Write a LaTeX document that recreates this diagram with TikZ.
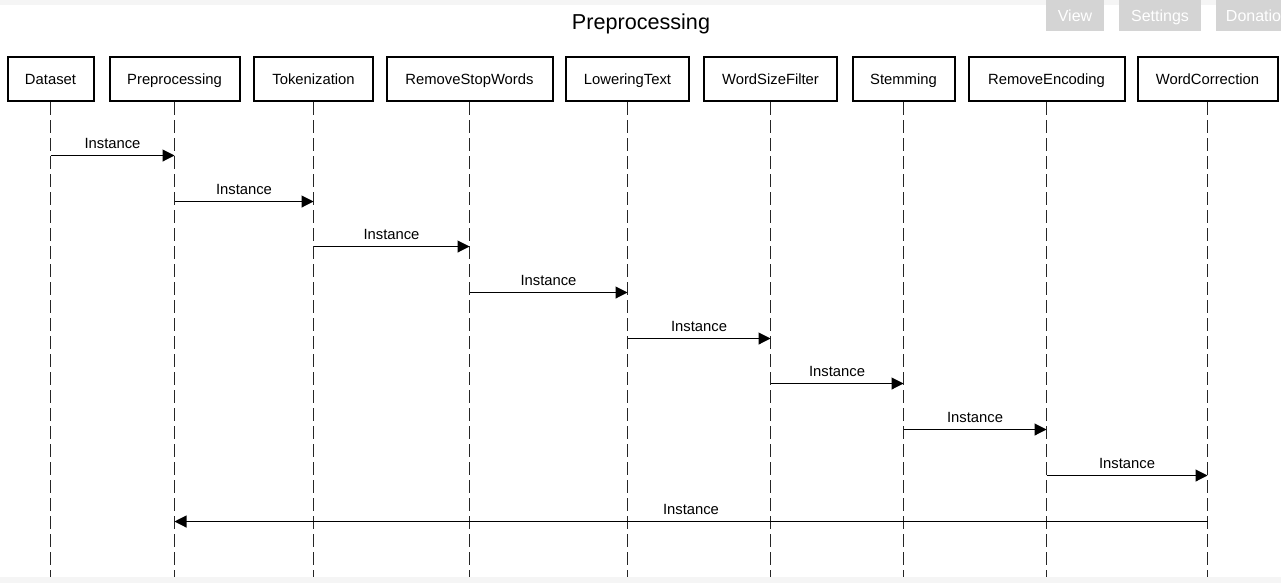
\documentclass[tikz,border=0pt]{standalone}
\usepackage{fontspec}
\setmainfont{Liberation Sans}
\usetikzlibrary{arrows.meta}
\begin{document}
\begin{tikzpicture}[x=0.75pt,y=-0.75pt,
  actor/.style={draw=black,line width=1.5pt,minimum height=33pt,inner sep=0pt,text height=7.95pt,text depth=0pt,font=\fontsize{11.1}{13}\selectfont},
  lifeline/.style={line width=0.9pt,dash pattern=on 9.75pt off 3.75pt,draw=black!85},
  msg/.style={line width=0.8pt,draw=black,-{Triangle[length=9pt,width=9pt]}},
  lbl/.style={font=\fontsize{11.1}{13}\selectfont,inner sep=0pt,above=5pt},
  btn/.style={fill=black!17,text=white,inner sep=0pt,minimum height=23.5pt,text height=8.6pt,text depth=0pt,font=\fontsize{12}{14}\selectfont},
  band/.style={fill=black!4,draw=none}]
\useasboundingbox (0,0) rectangle (1281,583);
\clip (0,0) rectangle (1281,583);
\fill[white] (0,0) rectangle (1281,583);
\fill[band] (0,0) rectangle (1281,5);
\fill[band] (0,577) rectangle (1281,583);
% buttons
\node[btn,minimum width=43.5pt] (bView) at (1075,15.5) {View};
\node[btn,minimum width=61.5pt] (bSettings) at (1160,15.5) {Settings};
\node[btn,minimum width=63pt] (bDonation) at (1258,15.5) {Donation};
% title
\node[font=\fontsize{16.2}{19}\selectfont,inner sep=0pt,text height=11.6pt,text depth=0pt] (title) at (641,22) {Preprocessing};
% actors
\node[actor,minimum width=64.5pt] (Dataset) at (50.5,79) {Dataset};
\node[actor,minimum width=97.5pt] (Preprocessing) at (174.5,79) {Preprocessing};
\node[actor,minimum width=89.25pt] (Tokenization) at (313.5,79) {Tokenization};
\node[actor,minimum width=124.5pt] (RemoveStopWords) at (469.5,79) {RemoveStopWords};
\node[actor,minimum width=92.25pt] (LoweringText) at (627.5,79) {LoweringText};
\node[actor,minimum width=99.75pt] (WordSizeFilter) at (770.5,79) {WordSizeFilter};
\node[actor,minimum width=76.5pt] (Stemming) at (903.5,79) {Stemming};
\node[actor,minimum width=117pt] (RemoveEncoding) at (1046.5,79) {RemoveEncoding};
\node[actor,minimum width=105pt] (WordCorrection) at (1207.5,79) {WordCorrection};
% lifelines
\coordinate (bot) at (0,577);
\foreach \a in {Dataset,Preprocessing,Tokenization,RemoveStopWords,LoweringText,WordSizeFilter,Stemming,RemoveEncoding,WordCorrection}
  \draw[lifeline] (\a.south) -- (\a.south |- bot);
% message levels
\coordinate (y1) at (0,155.5);
\coordinate (y2) at (0,201.5);
\coordinate (y3) at (0,246.5);
\coordinate (y4) at (0,292.5);
\coordinate (y5) at (0,338.5);
\coordinate (y6) at (0,383.5);
\coordinate (y7) at (0,429.5);
\coordinate (y8) at (0,475.5);
\coordinate (y9) at (0,521.5);
% messages
\draw[msg] (Dataset.south |- y1) -- node[lbl] {Instance} (Preprocessing.south |- y1);
\draw[msg] (Preprocessing.south |- y2) -- node[lbl] {Instance} (Tokenization.south |- y2);
\draw[msg] (Tokenization.south |- y3) -- node[lbl] {Instance} (RemoveStopWords.south |- y3);
\draw[msg] (RemoveStopWords.south |- y4) -- node[lbl] {Instance} (LoweringText.south |- y4);
\draw[msg] (LoweringText.south |- y5) -- node[lbl] {Instance} (WordSizeFilter.south |- y5);
\draw[msg] (WordSizeFilter.south |- y6) -- node[lbl] {Instance} (Stemming.south |- y6);
\draw[msg] (Stemming.south |- y7) -- node[lbl] {Instance} (RemoveEncoding.south |- y7);
\draw[msg] (RemoveEncoding.south |- y8) -- node[lbl] {Instance} (WordCorrection.south |- y8);
\draw[msg] (WordCorrection.south |- y9) -- node[lbl] {Instance} (Preprocessing.south |- y9);
\end{tikzpicture}
\end{document}
